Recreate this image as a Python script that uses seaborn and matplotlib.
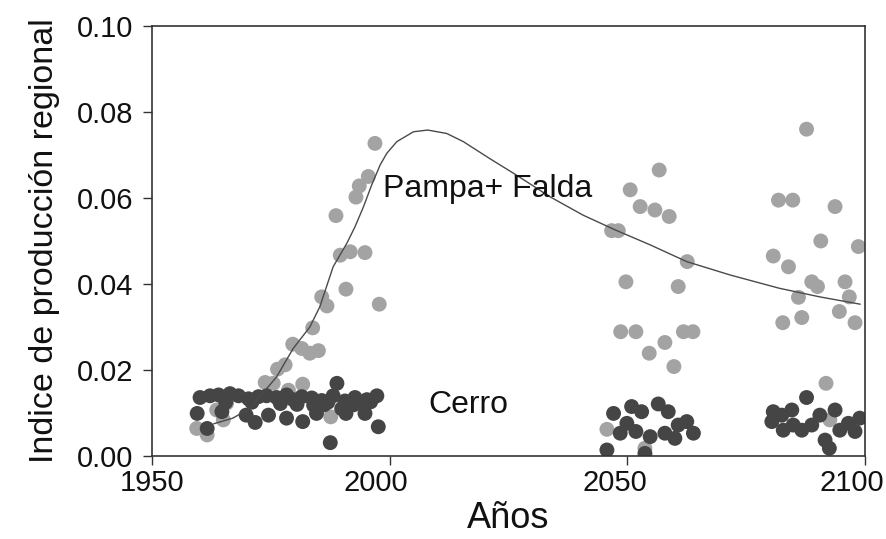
import matplotlib
matplotlib.use('Agg')
import matplotlib.pyplot as plt
import matplotlib.transforms as mtransforms
import seaborn as sns
import pandas as pd
import numpy as np

# ---------------- datos ----------------
# Pampa+Falda (puntos gris claro)
pampa_anio = [1959.4, 1961.6, 1963.6, 1965.0, 1965.7, 1973.8, 1975.5, 1976.4, 1978.0, 1978.7,
              1979.6, 1981.5, 1981.7, 1983.2, 1983.8, 1985.0, 1985.7, 1986.8, 1987.6, 1988.7,
              1989.6, 1990.8, 1991.7, 1992.9, 1993.6, 1994.8, 1995.5, 1996.9, 1997.8,
              2045.7, 2046.7, 2048.1, 2048.6, 2049.7, 2050.6, 2051.8, 2052.7, 2053.7, 2054.6,
              2055.8, 2056.7, 2057.9, 2058.8, 2059.8, 2060.7, 2061.8, 2062.6, 2063.8,
              2080.7, 2081.8, 2082.7, 2083.9, 2084.8, 2086.0, 2086.7, 2087.7, 2088.8, 2090.0,
              2090.7, 2091.8, 2092.6, 2093.7, 2094.6, 2095.8, 2096.7, 2097.9, 2098.6]
pampa_valor = [0.0064, 0.0049, 0.0107, 0.0084, 0.0123, 0.0171, 0.0169, 0.0202, 0.0212, 0.0153,
               0.0260, 0.0250, 0.0167, 0.0239, 0.0298, 0.0245, 0.0370, 0.0349, 0.0091, 0.0559,
               0.0467, 0.0388, 0.0475, 0.0602, 0.0628, 0.0473, 0.0650, 0.0727, 0.0353,
               0.0062, 0.0524, 0.0524, 0.0289, 0.0405, 0.0619, 0.0289, 0.0580, 0.0018, 0.0239,
               0.0572, 0.0665, 0.0264, 0.0557, 0.0208, 0.0394, 0.0289, 0.0452, 0.0289,
               0.0465, 0.0595, 0.0310, 0.0440, 0.0595, 0.0369, 0.0322, 0.0760, 0.0405, 0.0394,
               0.0500, 0.0169, 0.0084, 0.0580, 0.0336, 0.0405, 0.0370, 0.0310, 0.0487]

# Cerro (puntos gris oscuro)
cerro_anio = [1960.1, 1962.2, 1964.0, 1966.4, 1968.2, 1970.3, 1972.4, 1974.1, 1976.2, 1978.3,
              1979.7, 1981.5, 1983.6, 1985.7, 1988.1, 1990.6, 1992.7, 1995.2, 1997.3,
              1965.5, 1971.0, 1977.0, 1980.5, 1984.0, 1987.0, 1994.0, 1996.0,
              1959.5, 1961.6, 1964.7, 1969.8, 1971.7, 1974.5, 1978.3, 1981.7, 1984.6, 1986.2,
              1988.9, 1987.5, 1989.9, 1990.8, 1992.4, 1994.8, 1997.6,
              2045.7, 2047.1, 2048.5, 2049.9, 2050.9, 2051.8, 2053.0, 2053.7, 2054.8, 2056.5,
              2057.9, 2058.6, 2060.0, 2060.7, 2062.5, 2063.9,
              2080.4, 2080.7, 2082.5, 2082.8, 2084.6, 2084.9, 2086.7, 2087.7, 2088.8, 2090.5,
              2091.6, 2092.5, 2093.7, 2094.7, 2096.5, 2097.9, 2098.9]
cerro_valor = [0.0136, 0.0140, 0.0142, 0.0145, 0.0140, 0.0133, 0.0138, 0.0140, 0.0136, 0.0142,
               0.0131, 0.0138, 0.0135, 0.0129, 0.0140, 0.0128, 0.0136, 0.0131, 0.0140,
               0.0125, 0.0125, 0.0122, 0.0120, 0.0118, 0.0125, 0.0124, 0.0126,
               0.0099, 0.0064, 0.0103, 0.0095, 0.0078, 0.0095, 0.0088, 0.0080, 0.0099, 0.0119,
               0.0169, 0.0031, 0.0110, 0.0099, 0.0119, 0.0099, 0.0068,
               0.0014, 0.0099, 0.0053, 0.0076, 0.0115, 0.0057, 0.0103, 0.0006, 0.0045, 0.0121,
               0.0053, 0.0103, 0.0041, 0.0072, 0.0080, 0.0053,
               0.0080, 0.0103, 0.0095, 0.0060, 0.0107, 0.0072, 0.0060, 0.0136, 0.0072, 0.0095,
               0.0037, 0.0018, 0.0107, 0.0060, 0.0076, 0.0057, 0.0088]

# curva ajustada
curva_anio = [1963, 1967, 1970.6, 1972.7, 1976.2, 1979.7, 1983.2, 1985.3, 1988.1, 1991,
              1992.7, 1994.5, 1996.2, 1998, 1999.4, 2001.5, 2005, 2008, 2012, 2015.5,
              2021, 2026.7, 2033.7, 2040.7, 2047.4, 2054.8, 2062.5, 2071.6, 2082, 2090.5, 2099]
curva_valor = [0.0075, 0.0088, 0.0111, 0.0138, 0.0184, 0.0250, 0.0300, 0.0347, 0.0440, 0.0495,
               0.0533, 0.0580, 0.0630, 0.0677, 0.0704, 0.0731, 0.0754, 0.0758, 0.0750, 0.0731,
               0.0692, 0.0653, 0.0603, 0.0560, 0.0526, 0.0491, 0.0452, 0.0421, 0.0390, 0.0370, 0.0353]

x_ticks = [1950, 2000, 2050, 2100]
y_ticks = [0.00, 0.02, 0.04, 0.06, 0.08, 0.10]

# ---------------- estilo ----------------
sns.set_style('ticks')
plt.rcParams['font.family'] = ['Liberation Sans', 'DejaVu Sans']

df = pd.concat([
    pd.DataFrame({'anio': pampa_anio, 'valor': pampa_valor, 'grupo': 'Pampa+Falda'}),
    pd.DataFrame({'anio': cerro_anio, 'valor': cerro_valor, 'grupo': 'Cerro'}),
], ignore_index=True)
curva = pd.DataFrame({'anio': curva_anio, 'valor': curva_valor})

fig = plt.figure(figsize=(8.87, 5.39), dpi=100)
ax = fig.add_axes([0.1714, 0.154, 0.9752 - 0.1714, 0.9518 - 0.154])

sns.scatterplot(data=df, x='anio', y='valor', hue='grupo',
                palette={'Pampa+Falda': '#a3a3a3', 'Cerro': '#454545'},
                s=115, linewidth=0, alpha=1, legend=False, ax=ax)
sns.lineplot(data=curva, x='anio', y='valor', color='#4a4a4a', linewidth=1.0, ax=ax)

ax.text(1998.6, 0.0621, 'Pampa+ Falda', fontsize=23, ha='left', va='center', color='#111111')
ax.text(2008.1, 0.0119, 'Cerro', fontsize=23, ha='left', va='center', color='#111111')

ax.set_xlim(1950, 2100)
ax.set_ylim(0, 0.10)
ax.set_xticks(x_ticks)
ax.set_yticks(y_ticks)
ax.set_yticklabels([f'{v:.2f}' for v in y_ticks])
ax.tick_params(length=6.5, width=1.0, color='#333333', labelcolor='#111111')
ax.tick_params(axis='x', labelsize=21, pad=3)
ax.tick_params(axis='y', labelsize=21, pad=7)

# etiquetas del eje x algo corridas a la izquierda, como en el original
corrimientos = [0, -14, -12, -13]
for lab, dx in zip(ax.get_xticklabels(), corrimientos):
    lab.set_transform(lab.get_transform() +
                      mtransforms.ScaledTranslation(dx / 100, 0, fig.dpi_scale_trans))

ax.set_xlabel('Años', fontsize=26, labelpad=3, color='#111111')
ax.set_ylabel('Indice de producción regional', fontsize=24.5, labelpad=12, color='#111111')

for sp in ax.spines.values():
    sp.set_visible(True)
    sp.set_color('#333333')
    sp.set_linewidth(1.2)

fig.savefig('out.png', dpi=100)
